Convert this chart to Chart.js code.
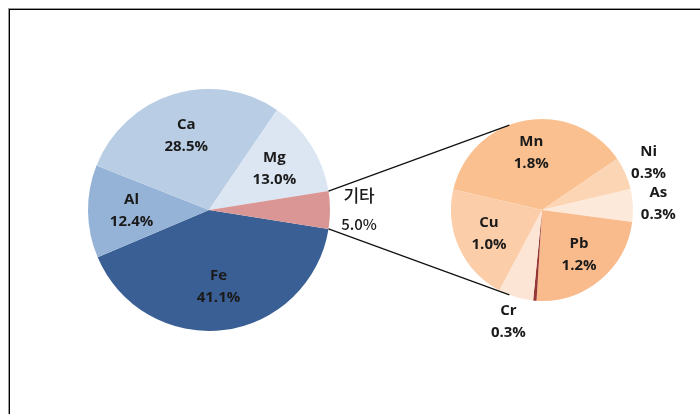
<!DOCTYPE html>
<html>
<head>
<meta charset="utf-8">
<script src="https://cdn.jsdelivr.net/npm/chart.js@4/dist/chart.umd.min.js"></script>
<style>
body{margin:0;background:#fff;}
#wrap{position:relative;width:700px;height:414px;overflow:hidden;}
#wrap canvas{position:absolute;left:0;top:0;}
#frame{position:absolute;left:9px;top:9px;width:800px;height:500px;border-left:1px solid #000;border-top:1px solid #000;box-shadow:-1px -1px 0 #999;}
</style>
</head>
<body>
<div id="wrap">
  <div id="frame"></div>
  <canvas id="mainPie" width="700" height="414"></canvas>
  <canvas id="subPie" width="700" height="414"></canvas>
</div>
<script>
// main pie (% of total)
const mainLabels=['Fe','Al','Ca','Mg','기타'];
const mainValues=[41.1,12.4,28.5,13.0,5.0];
const mainColors=['#3A5F94','#95B3D7','#B9CDE5','#DCE6F2','#D99694'];

// breakdown of 기타 (% of total)
const subLabels=['Mn','Ni','As','Pb','','Cr','Cu'];
const subValues=[1.84,0.29,0.29,1.19,0.03,0.31,1.04];
const subColors=['#FAC090','#FCD5B5','#FDE9D9','#F9BA8C','#953735','#FDE5D6','#FBCDA9'];

const TEXT='#1a1a1a';

// slice labels: big slices inside, small ones outside
const sliceLabels={
  id:'sliceLabels',
  afterDatasetsDraw(chart){
    const ctx=chart.ctx;
    const ds=chart.data.datasets[0];
    const total=ds.data.reduce((a,b)=>a+b,0);
    chart.getDatasetMeta(0).data.forEach((arc,i)=>{
      const name=chart.data.labels[i];
      if(!name) return;
      const v=ds.data[i];
      const mid=(arc.startAngle+arc.endAngle)/2;
      const outside=v/total<0.1;
      const korean=/[가-힣]/.test(name);
      const r=arc.outerRadius*(outside?(korean?1.24:1.28):0.64);
      const x=arc.x+Math.cos(mid)*r, y=arc.y+Math.sin(mid)*r;
      ctx.save();
      ctx.fillStyle=TEXT;
      ctx.textAlign='center';
      ctx.textBaseline='middle';
      if(korean){
        ctx.font='500 17px "Noto Sans CJK KR"';
        ctx.fillText(name,x,y-14);
        ctx.font='500 15px "Noto Sans CJK KR"';
        ctx.fillText(v.toFixed(1)+'%',x,y+14);
      }else{
        ctx.font='bold 15px "Open Sans"';
        ctx.fillText(name,x,y-11);
        ctx.fillText(v.toFixed(1)+'%',x,y+11);
      }
      ctx.restore();
    });
  }
};

const mainChart=new Chart(document.getElementById('mainPie'),{
  type:'pie',
  data:{labels:mainLabels,datasets:[{data:mainValues,backgroundColor:mainColors,borderWidth:0}]},
  options:{
    responsive:false,animation:false,rotation:99,
    layout:{padding:{left:88,top:89,right:370,bottom:83}},
    plugins:{legend:{display:false},tooltip:{enabled:false}}
  },
  plugins:[sliceLabels]
});

// lines from the 기타 slice to the secondary pie
const connectors={
  id:'connectors',
  afterDatasetsDraw(chart){
    const other=mainChart.getDatasetMeta(0).data[mainLabels.indexOf('기타')];
    const sub=chart.getDatasetMeta(0).data[0];
    const ctx=chart.ctx;
    const R=other.outerRadius, r=sub.outerRadius;
    const a=111*Math.PI/180;
    ctx.save();
    ctx.strokeStyle='#111';
    ctx.lineWidth=1.3;
    ctx.beginPath();
    ctx.moveTo(other.x+R*Math.cos(other.startAngle),other.y+R*Math.sin(other.startAngle));
    ctx.lineTo(sub.x+r*Math.cos(-a),sub.y+r*Math.sin(-a));
    ctx.moveTo(other.x+R*Math.cos(other.endAngle),other.y+R*Math.sin(other.endAngle));
    ctx.lineTo(sub.x+r*Math.cos(a),sub.y+r*Math.sin(a));
    ctx.stroke();
    ctx.restore();
  }
};

new Chart(document.getElementById('subPie'),{
  type:'pie',
  data:{labels:subLabels,datasets:[{data:subValues,backgroundColor:subColors,borderWidth:0}]},
  options:{
    responsive:false,animation:false,rotation:283,
    layout:{padding:{left:451,top:119,right:67,bottom:113}},
    plugins:{legend:{display:false},tooltip:{enabled:false}}
  },
  plugins:[connectors,sliceLabels]
});
</script>
</body>
</html>
